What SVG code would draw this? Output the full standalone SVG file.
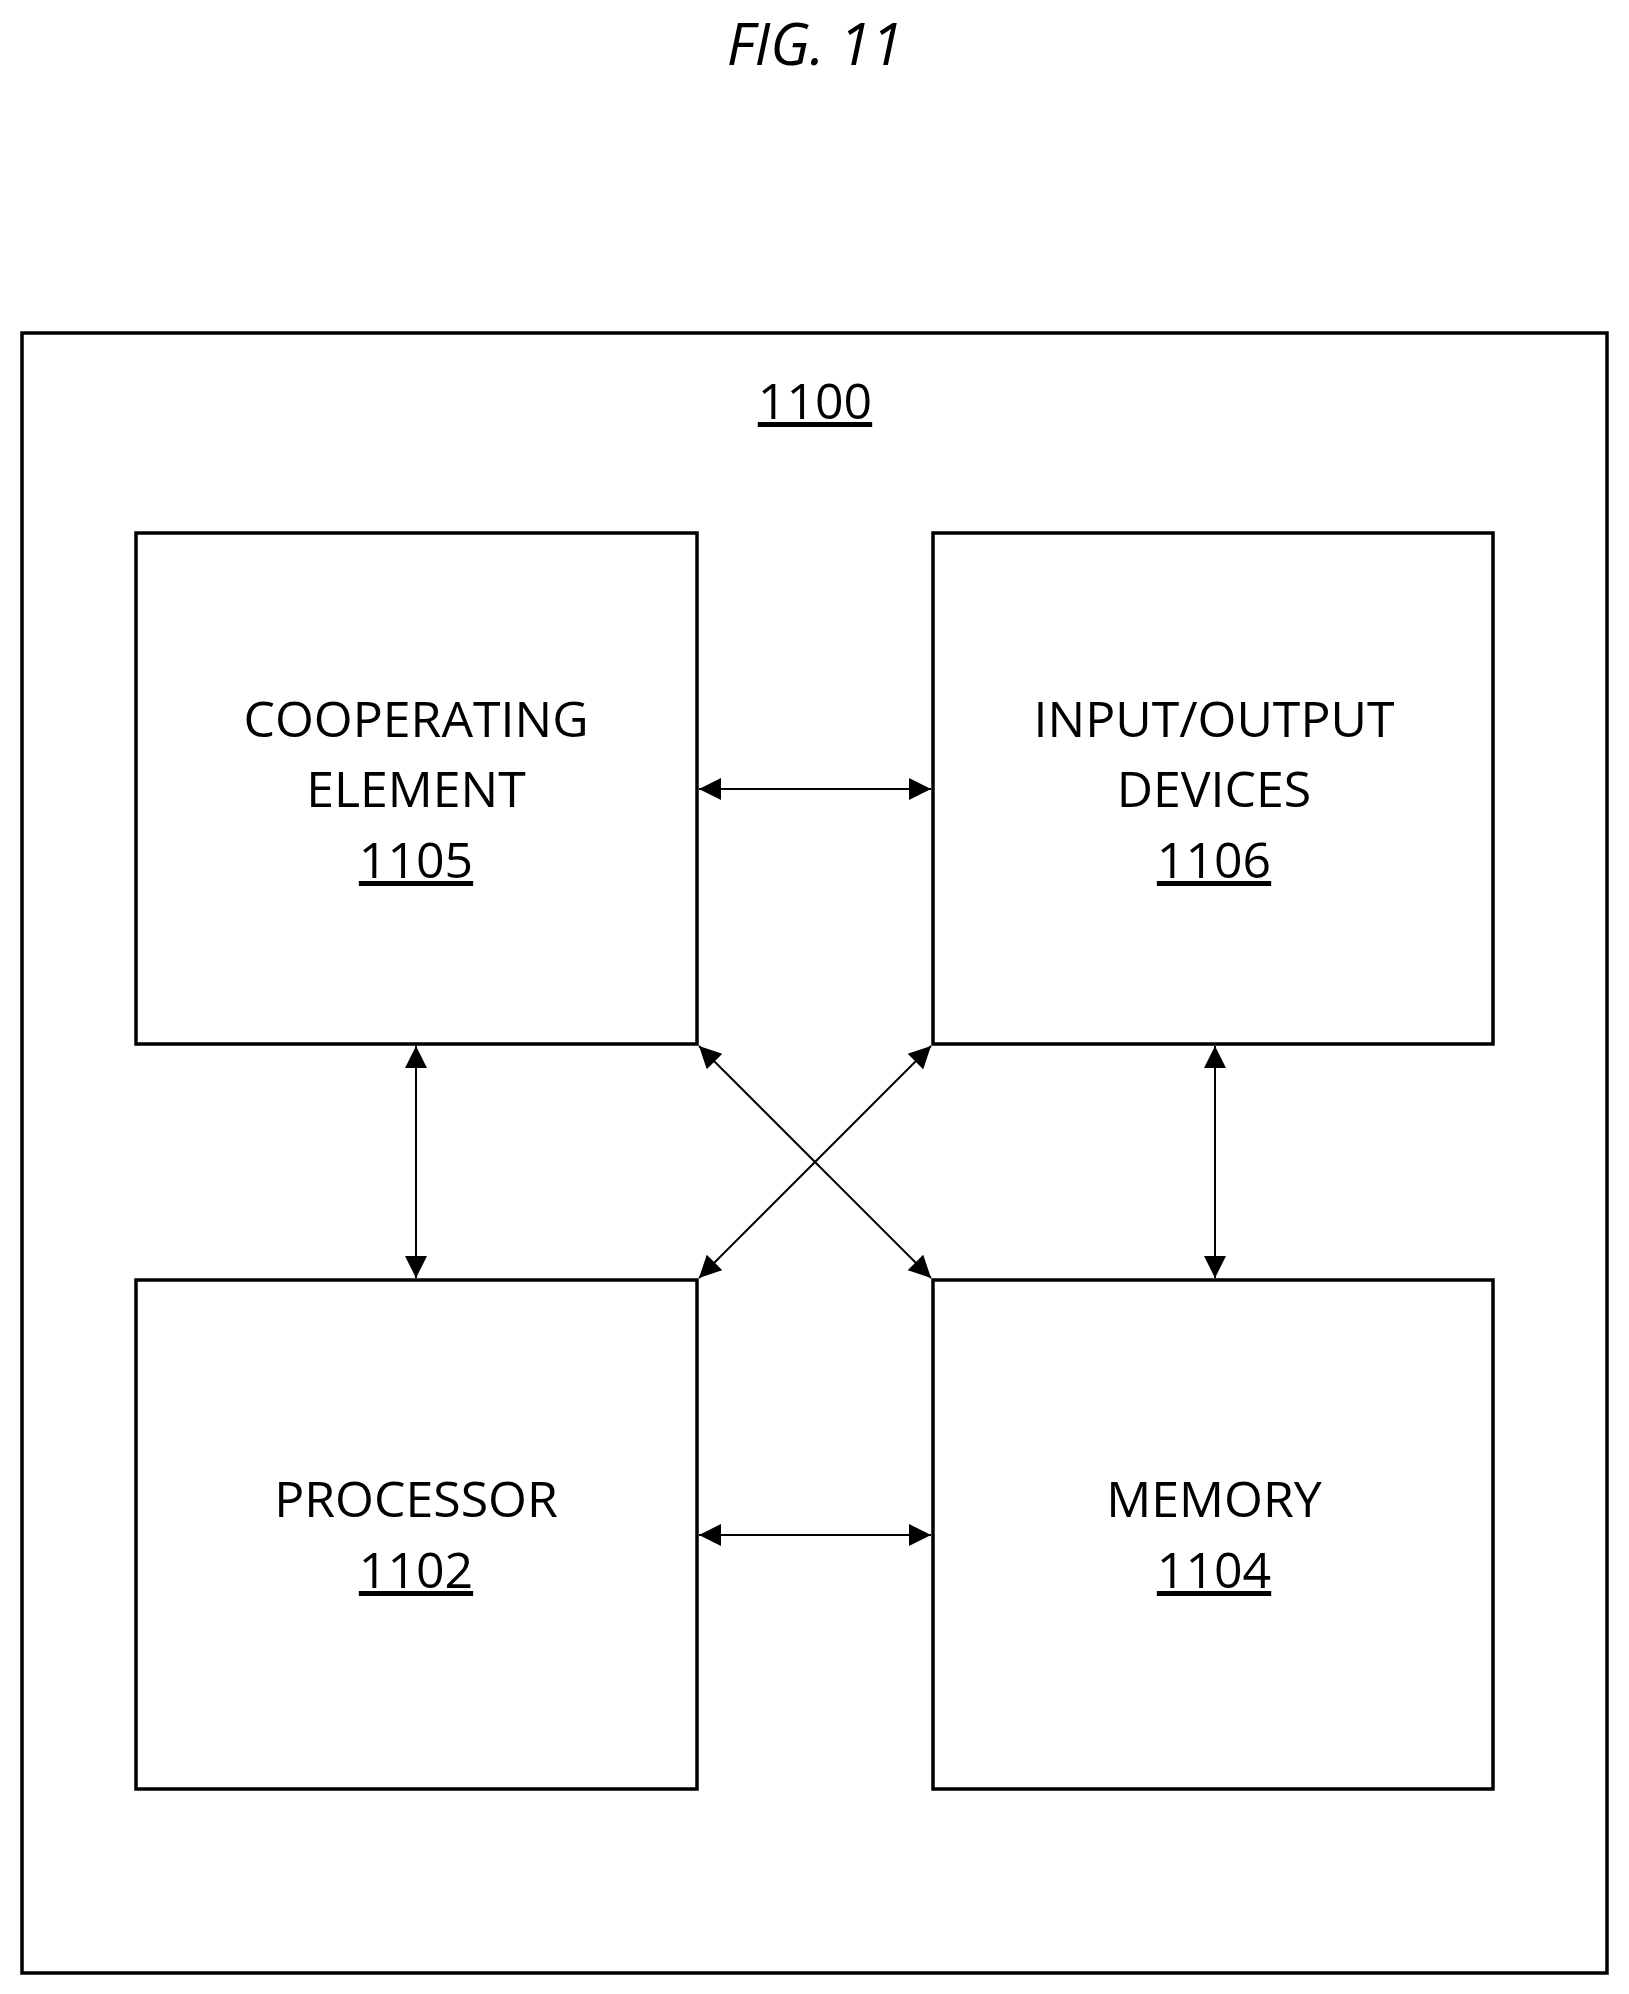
<svg xmlns="http://www.w3.org/2000/svg" width="1629" height="1994" viewBox="0 0 1629 1994">
<style>
.box{fill:#fff;stroke:#000;stroke-width:3.5}
.t{font-family:"Open Sans","Noto Sans",sans-serif;font-size:50px;text-anchor:middle;fill:#000}
.c{stroke:#000;stroke-width:2;fill:none;marker-start:url(#a);marker-end:url(#a)}
</style>
<defs><marker id="a" viewBox="0 0 10 10" refX="10" refY="5" markerWidth="24" markerHeight="22" markerUnits="userSpaceOnUse" orient="auto-start-reverse"><path d="M0,0L10,5L0,10z" fill="#000"/></marker></defs>
<rect width="1629" height="1994" fill="#fff"/>
<text class="t" x="815" y="65" font-style="italic" style="font-size:58px">FIG. 11</text>
<g id="system"><rect class="box" x="22" y="333" width="1585" height="1640"/><text class="t" x="815" y="419" text-decoration="underline">1100</text></g>
<g id="n1105"><rect class="box" x="136" y="533" width="561" height="511"/><text class="t" x="416" y="737">COOPERATING</text><text class="t" x="416" y="807">ELEMENT</text><text class="t" x="416" y="878" text-decoration="underline">1105</text></g>
<g id="n1106"><rect class="box" x="933" y="533" width="560" height="511"/><text class="t" x="1214" y="737">INPUT/OUTPUT</text><text class="t" x="1214" y="807">DEVICES</text><text class="t" x="1214" y="878" text-decoration="underline">1106</text></g>
<g id="n1102"><rect class="box" x="136" y="1280" width="561" height="509"/><text class="t" x="416" y="1517">PROCESSOR</text><text class="t" x="416" y="1588" text-decoration="underline">1102</text></g>
<g id="n1104"><rect class="box" x="933" y="1280" width="560" height="509"/><text class="t" x="1214" y="1517">MEMORY</text><text class="t" x="1214" y="1588" text-decoration="underline">1104</text></g>
<g id="connectors">
<line class="c" x1="699" y1="789" x2="931" y2="789"/>
<line class="c" x1="699" y1="1535" x2="931" y2="1535"/>
<line class="c" x1="416" y1="1046" x2="416" y2="1278"/>
<line class="c" x1="1215" y1="1046" x2="1215" y2="1278"/>
<line class="c" x1="699" y1="1046" x2="931" y2="1278"/>
<line class="c" x1="931" y1="1046" x2="699" y2="1278"/>
</g>
</svg>
